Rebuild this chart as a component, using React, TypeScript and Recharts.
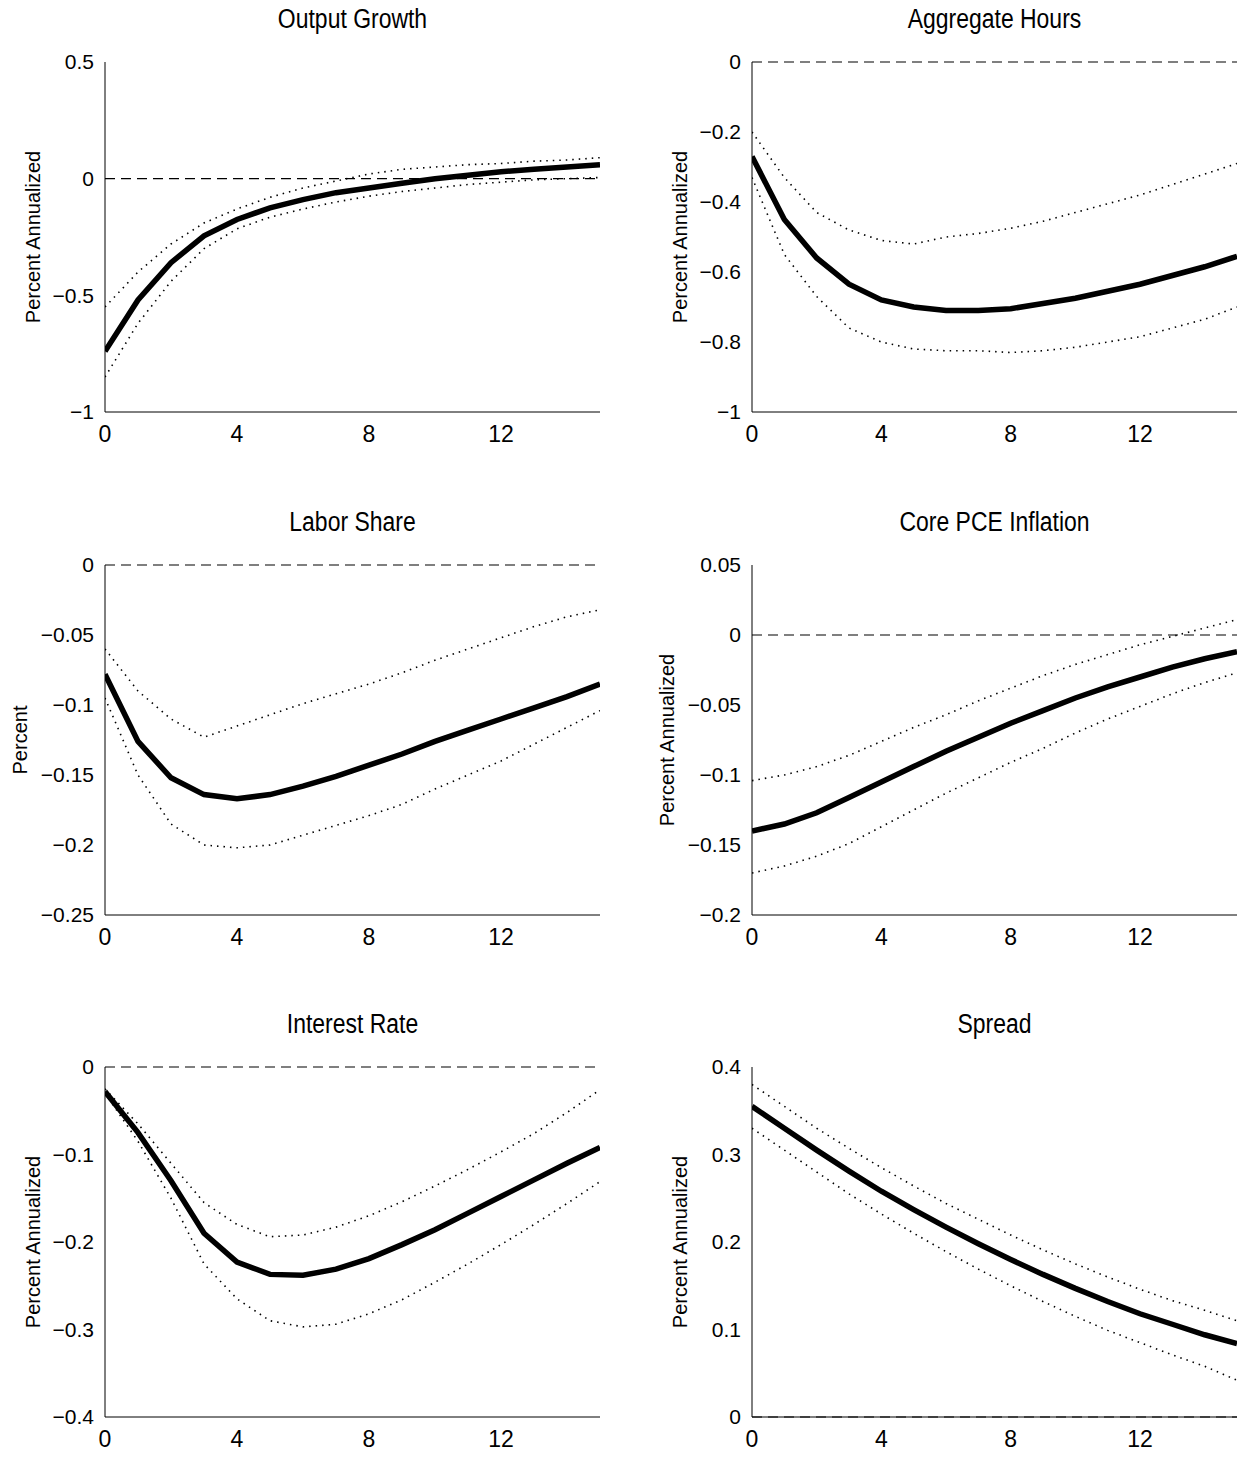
import { LineChart, Line, XAxis, YAxis, ReferenceLine } from "recharts";

const steps = [0, 1, 2, 3, 4, 5, 6, 7, 8, 9, 10, 11, 12, 13, 14, 15];

const outMain = [-0.74, -0.52, -0.36, -0.245, -0.175, -0.125, -0.09, -0.06, -0.04, -0.02, 0, 0.015, 0.03, 0.04, 0.05, 0.06];
const outUp = [-0.55, -0.4, -0.28, -0.19, -0.13, -0.08, -0.04, -0.01, 0.02, 0.04, 0.05, 0.06, 0.065, 0.075, 0.08, 0.09];
const outLo = [-0.85, -0.62, -0.44, -0.3, -0.215, -0.165, -0.13, -0.1, -0.075, -0.055, -0.04, -0.025, -0.015, -0.005, 0, 0.005];

const hrsMain = [-0.27, -0.45, -0.56, -0.635, -0.68, -0.7, -0.71, -0.71, -0.705, -0.69, -0.675, -0.655, -0.635, -0.61, -0.585, -0.555];
const hrsUp = [-0.2, -0.33, -0.43, -0.48, -0.51, -0.52, -0.5, -0.49, -0.475, -0.455, -0.43, -0.405, -0.38, -0.35, -0.32, -0.29];
const hrsLo = [-0.33, -0.55, -0.67, -0.76, -0.8, -0.82, -0.825, -0.825, -0.83, -0.825, -0.815, -0.8, -0.785, -0.76, -0.735, -0.7];

const labMain = [-0.078, -0.126, -0.152, -0.164, -0.167, -0.164, -0.158, -0.151, -0.143, -0.135, -0.126, -0.118, -0.11, -0.102, -0.094, -0.085];
const labUp = [-0.06, -0.09, -0.11, -0.123, -0.115, -0.107, -0.099, -0.092, -0.085, -0.077, -0.068, -0.06, -0.052, -0.044, -0.037, -0.032];
const labLo = [-0.095, -0.15, -0.185, -0.2, -0.202, -0.2, -0.193, -0.186, -0.179, -0.171, -0.16, -0.15, -0.14, -0.128, -0.116, -0.104];

const pceMain = [-0.14, -0.135, -0.127, -0.116, -0.105, -0.094, -0.083, -0.073, -0.063, -0.054, -0.045, -0.037, -0.03, -0.023, -0.017, -0.012];
const pceUp = [-0.104, -0.1, -0.094, -0.086, -0.076, -0.066, -0.057, -0.047, -0.038, -0.029, -0.021, -0.014, -0.007, -0.001, 0.005, 0.011];
const pceLo = [-0.17, -0.165, -0.158, -0.149, -0.137, -0.125, -0.113, -0.102, -0.091, -0.081, -0.07, -0.06, -0.051, -0.042, -0.034, -0.027];

const rateMain = [-0.028, -0.075, -0.13, -0.19, -0.223, -0.237, -0.238, -0.231, -0.219, -0.203, -0.186, -0.167, -0.148, -0.129, -0.11, -0.092];
const rateUp = [-0.025, -0.065, -0.11, -0.155, -0.18, -0.194, -0.192, -0.183, -0.17, -0.154, -0.136, -0.117, -0.097, -0.076, -0.052, -0.026];
const rateLo = [-0.03, -0.085, -0.15, -0.225, -0.265, -0.29, -0.297, -0.294, -0.282, -0.266, -0.246, -0.225, -0.203, -0.18, -0.156, -0.131];

const sprMain = [0.355, 0.33, 0.305, 0.281, 0.258, 0.237, 0.217, 0.198, 0.18, 0.163, 0.147, 0.132, 0.118, 0.106, 0.094, 0.084];
const sprUp = [0.38, 0.355, 0.33, 0.307, 0.285, 0.264, 0.244, 0.226, 0.208, 0.191, 0.175, 0.16, 0.146, 0.133, 0.122, 0.11];
const sprLo = [0.33, 0.305, 0.28, 0.255, 0.232, 0.21, 0.189, 0.169, 0.15, 0.132, 0.115, 0.099, 0.085, 0.071, 0.058, 0.042];

const font = "'Liberation Sans', Arial, sans-serif";

const fmt = (v: number) => (v < 0 ? "\u2212" + String(-v) : String(v));

type PanelProps = {
  title: string;
  ylabel: string;
  main: number[];
  up: number[];
  lo: number[];
  domain: [number, number];
  ticks: number[];
  left: number;
  top: number;
  plotW: number;
  labelX?: number;
};

const Panel = ({ title, ylabel, main, up, lo, domain, ticks, left, top, plotW, labelX = 33 }: PanelProps) => {
  const data = steps.map((s, i) => ({ s, main: main[i], up: up[i], lo: lo[i] }));
  const yw = 105;
  const w = yw + plotW + 8;
  return (
    <div style={{ position: "absolute", left, top, width: w, height: 460 }}>
      <div style={{ position: "absolute", left: yw, width: plotW, top: 4, textAlign: "center", fontFamily: font, fontSize: 27, transform: "scaleX(0.85)" }}>
        {title}
      </div>
      <div
        style={{
          position: "absolute", left: labelX, top: 237, fontFamily: font, fontSize: 20,
          transform: "translate(-50%, -50%) rotate(-90deg)", whiteSpace: "nowrap",
        }}
      >
        {ylabel}
      </div>
      <LineChart width={w} height={460} data={data} margin={{ top: 62, right: 8, bottom: 8, left: 0 }}>
        <XAxis dataKey="s" type="number" domain={[0, 15]} ticks={[0, 4, 8, 12]} allowDataOverflow
          height={40} stroke="#000" tickLine={false}
          tick={{ fill: "#000", fontSize: 23, fontFamily: font }} tickMargin={8} />
        <YAxis type="number" domain={domain} ticks={ticks} allowDataOverflow width={yw} stroke="#000"
          tickLine={false} tickFormatter={fmt} tick={{ fill: "#000", fontSize: 21, fontFamily: font }} tickMargin={5} />
        <ReferenceLine y={0} stroke="#000" strokeWidth={1.2} strokeDasharray="10 6" />
        <Line dataKey="up" stroke="#000" strokeWidth={1.6} strokeDasharray="1.5 5" dot={false} isAnimationActive={false} />
        <Line dataKey="lo" stroke="#000" strokeWidth={1.6} strokeDasharray="1.5 5" dot={false} isAnimationActive={false} />
        <Line dataKey="main" stroke="#000" strokeWidth={5.5} dot={false} isAnimationActive={false} />
      </LineChart>
    </div>
  );
};

export default function App() {
  return (
    <div style={{ position: "relative", width: 1246, height: 1460, margin: -8, background: "#fff" }}>
      <Panel title="Output Growth" ylabel="Percent Annualized" main={outMain} up={outUp} lo={outLo}
        domain={[-1, 0.5]} ticks={[-1, -0.5, 0, 0.5]} left={0} top={0} plotW={495} />
      <Panel title="Aggregate Hours" ylabel="Percent Annualized" main={hrsMain} up={hrsUp} lo={hrsLo}
        domain={[-1, 0]} ticks={[-1, -0.8, -0.6, -0.4, -0.2, 0]} left={647} top={0} plotW={485} />
      <Panel title="Labor Share" ylabel="Percent" main={labMain} up={labUp} lo={labLo}
        domain={[-0.25, 0]} ticks={[-0.25, -0.2, -0.15, -0.1, -0.05, 0]} left={0} top={503} plotW={495} labelX={20} />
      <Panel title="Core PCE Inflation" ylabel="Percent Annualized" main={pceMain} up={pceUp} lo={pceLo}
        domain={[-0.2, 0.05]} ticks={[-0.2, -0.15, -0.1, -0.05, 0, 0.05]} left={647} top={503} plotW={485} labelX={20} />
      <Panel title="Interest Rate" ylabel="Percent Annualized" main={rateMain} up={rateUp} lo={rateLo}
        domain={[-0.4, 0]} ticks={[-0.4, -0.3, -0.2, -0.1, 0]} left={0} top={1005} plotW={495} />
      <Panel title="Spread" ylabel="Percent Annualized" main={sprMain} up={sprUp} lo={sprLo}
        domain={[0, 0.4]} ticks={[0, 0.1, 0.2, 0.3, 0.4]} left={647} top={1005} plotW={485} />
    </div>
  );
}
